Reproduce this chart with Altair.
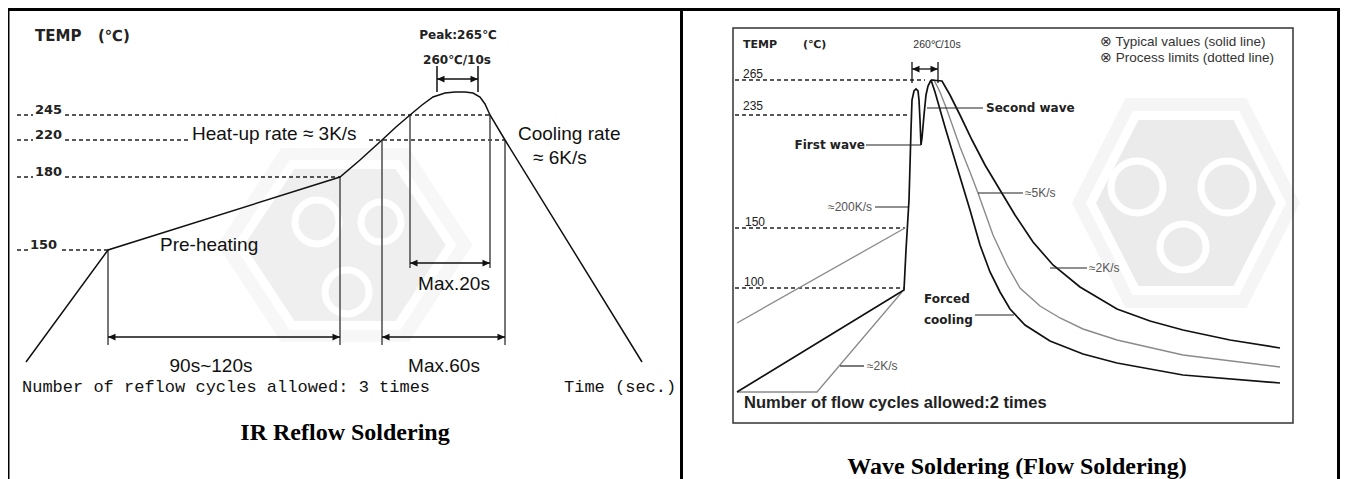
import altair as alt
import pandas as pd

# ---------------- canvas mapping: pixel space of the original figure ----------------
W, H = 1332, 471
X0, Y0 = 8, 8
XS = alt.Scale(domain=[X0, X0 + W], range=[0, W], nice=False, zero=False)
YS = alt.Scale(domain=[Y0, Y0 + H], range=[0, H], nice=False, zero=False)

def X(f): return alt.X(f"{f}:Q", scale=XS, axis=None)
def Y(f): return alt.Y(f"{f}:Q", scale=YS, axis=None)

# ============================ DATA ============================
# --- table borders ---
border_x1 = [8, 8, 681.5, 1338.5]
border_x2 = [1340, 8, 681.5, 1338.5]
border_y1 = [9.5, 8, 8, 8]
border_y2 = [9.5, 479, 479, 479]

# --- left panel: IR reflow profile ---
ir_x = [26, 108, 340, 360, 382, 396, 410, 422, 433, 445, 455, 465, 473, 480, 485, 490, 505, 642]
ir_y = [362, 250, 177, 160, 140, 127, 115, 105, 97, 93, 92, 92, 93, 97, 104, 115, 140, 362]

ir_levels = ["245", "220", "180", "150"]
ir_level_x = [35, 35, 35, 30]
ir_level_y = [114, 139, 176, 249]
ir_dash_x1 = [17, 65, 17, 65, 369, 17, 65, 17, 62]
ir_dash_x2 = [33, 490, 33, 190, 505, 33, 340, 28, 108]
ir_dash_y = [115, 115, 140, 140, 140, 177, 177, 250, 250]

ir_vert_x = [108, 340, 382, 410, 490, 505]
ir_vert_y1 = [250, 177, 140, 115, 115, 140]
ir_vert_y2 = [345, 345, 345, 268, 268, 345]

ir_arrow_x1 = [108, 382, 410, 437]
ir_arrow_x2 = [340, 505, 490, 478]
ir_arrow_y = [337, 337, 263, 79]
ir_tick_x = [437, 478]
ir_tick_y1 = [66, 66]
ir_tick_y2 = [92, 92]

# --- right panel: wave soldering ---
box_x1, box_x2, box_y1, box_y2 = [733], [1293], [28], [423]

wv_levels = ["265", "235", "150", "100"]
wv_level_x = [743, 743, 745, 744]
wv_level_y = [78, 110, 226, 286]
wv_dash_x1 = [735, 735, 735, 735]
wv_dash_x2 = [925, 910, 905, 904]
wv_dash_y = [80, 115, 228, 288]

main_x = [737, 904, 906, 909, 911, 912, 914, 916, 918, 919, 920, 921, 922, 924, 926, 928, 931]
main_y = [392, 290, 250, 200, 130, 100, 91, 89, 91, 100, 120, 145, 138, 115, 95, 86, 80]

coolA_x = [931, 935, 945, 957, 970, 980, 990, 1000, 1010, 1025, 1050, 1083, 1117, 1183, 1280]
coolA_y = [80, 92, 127, 167, 210, 245, 272, 292, 309, 325, 341, 354, 363, 375, 383]
coolB_x = [931, 934, 940, 947, 960, 970, 978, 993, 1007, 1020, 1040, 1060, 1083, 1117, 1183, 1280]
coolB_y = [80, 80, 92, 110, 147, 172, 193, 235, 265, 288, 306, 318, 329, 340, 355, 367]
coolC_x = [931, 942, 950, 960, 972, 985, 1000, 1015, 1033, 1053, 1080, 1117, 1150, 1183, 1230, 1280]
coolC_y = [80, 81, 95, 115, 140, 165, 190, 215, 242, 265, 287, 309, 321, 330, 340, 348]

lim1_x = [737, 905]
lim1_y = [323, 228]
lim2_x = [737, 817, 902]
lim2_y = [392, 392, 292]

lead_x1 = [875, 866, 927, 978, 1050, 975, 840]
lead_x2 = [908, 921, 983, 1023, 1087, 1014, 864]
lead_y = [207, 145, 108, 193, 268, 315, 366]

wv_arrow_x1, wv_arrow_x2, wv_arrow_y = [912], [938], [69]
wv_tick_x = [912, 938]
wv_tick_y1 = [62, 62]
wv_tick_y2 = [83, 83]

# --- watermarks (hexagon logo) ---
wm_x = [345, 1186]
wm_y = [245, 203]
ring_x = [317, 381, 347, 1137, 1227, 1183]
ring_y = [222, 222, 292, 187, 187, 247]

# ============================ HELPERS ============================
def rules(x1, x2, y1, y2, **kw):
    df = pd.DataFrame({"x": x1, "x2": x2, "y": y1, "y2": y2})
    return alt.Chart(df).mark_rule(**kw).encode(
        x=X("x"), x2=alt.X2("x2:Q"), y=Y("y"), y2=alt.Y2("y2:Q"))

def hrules(x1, x2, y, **kw):
    return rules(x1, x2, y, y, **kw)

def vrules(x, y1, y2, **kw):
    return rules(x, x, y1, y2, **kw)

def polyline(xs, ys, **kw):
    df = pd.DataFrame({"x": xs, "y": ys, "i": list(range(len(xs)))})
    return alt.Chart(df).mark_line(**kw).encode(x=X("x"), y=Y("y"), order="i:Q")

HEAD_R = "M0,0L-1,-0.45L-1,0.45Z"
HEAD_L = "M0,0L1,-0.45L1,0.45Z"

def arrows(x1, x2, y, color="#111", width=1.6):
    line = hrules(x1, x2, y, color=color, strokeWidth=width)
    r = alt.Chart(pd.DataFrame({"x": x2, "y": y})).mark_point(
        shape=HEAD_R, size=225, filled=True, color=color, opacity=1).encode(x=X("x"), y=Y("y"))
    l = alt.Chart(pd.DataFrame({"x": x1, "y": y})).mark_point(
        shape=HEAD_L, size=225, filled=True, color=color, opacity=1).encode(x=X("x"), y=Y("y"))
    return [line, r, l]

def texts(xs, ys, labels, **kw):
    df = pd.DataFrame({"x": xs, "y": ys, "t": labels})
    return alt.Chart(df).mark_text(**kw).encode(x=X("x"), y=Y("y"), text="t:N")

HEX_L = "M-0.5,-0.76L0.5,-0.76L1,0L0.5,0.76L-0.5,0.76L-1,0Z"
HEX_R = "M-0.53,-0.92L0.53,-0.92L1,0L0.53,0.92L-0.53,0.92L-1,0Z"

def symbol(x, y, shape, size, **kw):
    return alt.Chart(pd.DataFrame({"x": [x], "y": [y]})).mark_point(
        shape=shape, size=size, opacity=1, **kw).encode(x=X("x"), y=Y("y"))

SANS = "Liberation Sans"
DJ = "DejaVu Sans"

layers = []

# ---- watermarks ----
layers += [
    symbol(wm_x[0], wm_y[0], HEX_L, 255 ** 2, filled=True, fill="#f7f7f7", strokeWidth=0),
    symbol(wm_x[0], wm_y[0], HEX_L, 212 ** 2, filled=True, fill="#efefef", stroke="white", strokeWidth=9),
    symbol(wm_x[1], wm_y[1], HEX_R, 228 ** 2, filled=True, fill="#f5f5f5", strokeWidth=0),
    symbol(wm_x[1], wm_y[1], HEX_R, 190 ** 2, filled=True, fill="#ebebeb", stroke="white", strokeWidth=9),
]
ring_sizes = [44, 40, 44, 52, 52, 46]
for rx, ry, rs in zip(ring_x, ring_y, ring_sizes):
    layers.append(symbol(rx, ry, "circle", rs ** 2, filled=False, stroke="white", strokeWidth=7))

# ---- borders ----
layers.append(rules(border_x1, border_x2, border_y1, border_y2, color="#000", strokeWidth=3))
layers.append(alt.Chart(pd.DataFrame({"x": box_x1, "x2": box_x2, "y": box_y1, "y2": box_y2}))
              .mark_rect(filled=False, stroke="#333", strokeWidth=1.5)
              .encode(x=X("x"), x2=alt.X2("x2:Q"), y=Y("y"), y2=alt.Y2("y2:Q")))

# ---- left panel ----
layers.append(hrules(ir_dash_x1, ir_dash_x2, ir_dash_y, color="#222", strokeWidth=1.3, strokeDash=[4, 3]))
layers.append(vrules(ir_vert_x, ir_vert_y1, ir_vert_y2, color="#555", strokeWidth=1.6))
layers.append(polyline(ir_x, ir_y, color="#111", strokeWidth=1.5))
layers += arrows(ir_arrow_x1, ir_arrow_x2, ir_arrow_y)
layers.append(vrules(ir_tick_x, ir_tick_y1, ir_tick_y2, color="#111", strokeWidth=1.5))

layers.append(texts(ir_level_x, ir_level_y, ir_levels, align="left", baseline="alphabetic",
                    font=DJ, fontSize=13, fontWeight="bold", color="#222"))
layers.append(texts([35, 98], [36, 36], ["TEMP", "(℃)"], align="left", baseline="middle",
                    font=DJ, fontSize=15, fontWeight="bold", color="#222"))
layers.append(texts([458, 457], [35, 60], ["Peak:265℃", "260℃/10s"], align="center", baseline="middle",
                    font=DJ, fontSize=12, fontWeight="bold", color="#222"))
layers.append(texts([192, 518, 533, 160], [134, 134, 158, 245],
                    ["Heat-up rate ≈ 3K/s", "Cooling rate", "≈ 6K/s", "Pre-heating"],
                    align="left", baseline="middle", font=SANS, fontSize=19, color="#111"))
layers.append(texts([454, 211, 444], [284, 366, 366], ["Max.20s", "90s~120s", "Max.60s"],
                    align="center", baseline="middle", font=SANS, fontSize=19, color="#111"))
layers.append(texts([22, 564], [387, 387], ["Number of reflow cycles allowed: 3 times", "Time (sec.)"],
                    align="left", baseline="middle", font="Liberation Mono", fontSize=17, color="#111"))
layers.append(texts([345], [440], ["IR Reflow Soldering"], align="center", baseline="alphabetic",
                    font="Liberation Serif", fontSize=24, fontWeight="bold", color="#000"))

# ---- right panel ----
layers.append(hrules(wv_dash_x1, wv_dash_x2, wv_dash_y, color="#222", strokeWidth=1.3, strokeDash=[4, 3]))
layers.append(polyline(lim1_x, lim1_y, color="#8a8a8a", strokeWidth=1.3))
layers.append(polyline(lim2_x, lim2_y, color="#8a8a8a", strokeWidth=1.3))
layers.append(polyline(coolB_x, coolB_y, color="#8a8a8a", strokeWidth=1.4))
layers.append(polyline(main_x, main_y, color="#111", strokeWidth=1.7))
layers.append(polyline(coolA_x, coolA_y, color="#111", strokeWidth=1.7))
layers.append(polyline(coolC_x, coolC_y, color="#111", strokeWidth=1.7))
layers.append(hrules(lead_x1, lead_x2, lead_y, color="#222", strokeWidth=1.2))
layers += arrows(wv_arrow_x1, wv_arrow_x2, wv_arrow_y, width=1.3)
layers.append(vrules(wv_tick_x, wv_tick_y1, wv_tick_y2, color="#111", strokeWidth=1.3))

layers.append(texts(wv_level_x, wv_level_y, wv_levels, align="left", baseline="alphabetic",
                    font=SANS, fontSize=12, color="#222"))
layers.append(texts([743, 803], [45, 45], ["TEMP", "(℃)"], align="left", baseline="middle",
                    font=DJ, fontSize=11, fontWeight="bold", color="#222"))
layers.append(texts([937], [45], ["260℃/10s"], align="center", baseline="middle",
                    font=SANS, fontSize=10.5, color="#333"))
layers.append(texts([1100, 1100], [42, 58], ["⊗ Typical values (solid line)", "⊗ Process limits (dotted line)"],
                    align="left", baseline="middle", font=SANS, fontSize=13.5, color="#333"))
layers.append(texts([865], [145], ["First wave"], align="right", baseline="middle",
                    font=DJ, fontSize=12, fontWeight="bold", color="#222"))
layers.append(texts([986, 924, 924], [108, 299, 320], ["Second wave", "Forced", "cooling"], align="left",
                    baseline="middle", font=DJ, fontSize=12, fontWeight="bold", color="#222"))
layers.append(texts([872], [207], ["≈200K/s"], align="right", baseline="middle",
                    font=SANS, fontSize=12, color="#555"))
layers.append(texts([1025, 1089, 867], [193, 268, 366], ["≈5K/s", "≈2K/s", "≈2K/s"], align="left",
                    baseline="middle", font=SANS, fontSize=12, color="#555"))
layers.append(texts([744], [403], ["Number of flow cycles allowed:2 times"], align="left", baseline="middle",
                    font=SANS, fontSize=16.5, fontWeight="bold", color="#222"))
layers.append(texts([1017], [474], ["Wave Soldering (Flow Soldering)"], align="center", baseline="alphabetic",
                    font="Liberation Serif", fontSize=24, fontWeight="bold", color="#000"))

chart = alt.layer(*layers).properties(
    width=W, height=H, padding=0,
    autosize=alt.AutoSizeParams(type="none"),
    background="white",
).configure_view(stroke=None)

chart.save("out.html", embed_options={"renderer": "svg", "actions": False})
